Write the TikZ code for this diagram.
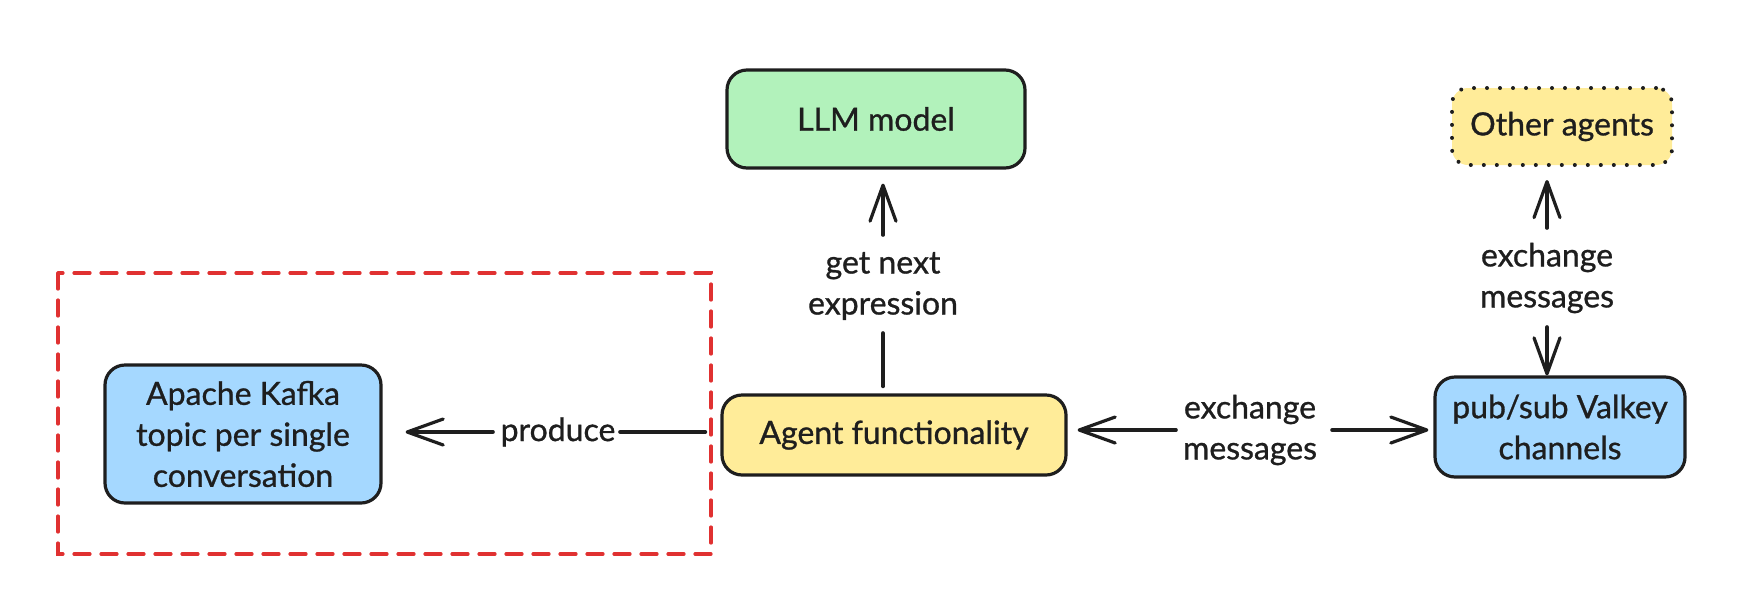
\documentclass[tikz,border=0pt]{standalone}
\usepackage{fontspec}
\setmainfont{Lato}[FakeBold=0.9]
\usetikzlibrary{arrows.meta}
\definecolor{ink}{HTML}{1E1E1E}
\definecolor{llmgreen}{HTML}{B2F2BB}
\definecolor{agyellow}{HTML}{FFEC99}
\definecolor{skyblue}{HTML}{A5D8FF}
\definecolor{redline}{HTML}{E03131}
\tikzset{
  box/.style={draw=ink, line width=1.6pt, rounded corners=10pt, text=ink, align=center,
    inner sep=0pt, font=\fontsize{16}{20.5}\selectfont},
  lbl/.style={text=ink, align=center, inner sep=2pt, font=\fontsize{16}{20.5}\selectfont},
  conn/.style={draw=ink, line width=1.8pt, line cap=round},
  tip/.style={-{Straight Barb[length=18pt,width=13pt,line width=1.6pt,round]}}
}
\begin{document}
\begin{tikzpicture}[x=0.5pt,y=-0.5pt]
\useasboundingbox (0,0) rectangle (1756,606);
% red dashed group
\draw[redline, line width=1.6pt, dash pattern=on 8pt off 5.5pt, line cap=round]
  (58,273) rectangle (711,554);
% boxes
\node[box, fill=llmgreen, minimum width=149pt, minimum height=49pt] (llm) at (876,119) {LLM model};
\node[box, fill=agyellow, minimum width=110pt, minimum height=38.5pt, rounded corners=8pt,
  dash pattern=on 0pt off 6.5pt, line width=2pt, line cap=round] (other) at (1562,126.5) {Other agents};
\node[box, fill=agyellow, minimum width=172pt, minimum height=40pt] (agent) at (894,435) {Agent functionality};
\node[box, fill=skyblue, minimum width=125pt, minimum height=50pt] (pub) at (1560,427) {pub/sub Valkey\\channels};
\node[box, fill=skyblue, minimum width=138pt, minimum height=69pt] (kafka) at (243,434) {Apache Kafka\\topic per single\\conversation};
% labels
\node[lbl] (lblL) at (883,286) {get next\\expression};
\node[lbl] (lblO) at (1547,278) {exchange\\messages};
\node[lbl] (lblE) at (1250,430) {exchange\\messages};
\node[lbl] (lblP) at (558,432) {produce};
% connectors
\draw[conn, tip, shorten <=25.5pt, shorten >=7pt] (lblL.center) -- (lblL.center |- llm.south);
\draw[conn, shorten <=23.5pt, shorten >=3.5pt] (lblL.center) -- (lblL.center |- agent.north);
\draw[conn, tip, shorten <=25pt, shorten >=6.5pt] (lblO.center) -- (lblO.center |- other.south);
\draw[conn, tip, shorten <=24.5pt, shorten >=0pt] (lblO.center) -- (lblO.center |- pub.north);
\draw[conn, tip, shorten <=37pt, shorten >=5pt] (lblE.center) -- (lblE.center -| agent.east);
\draw[conn, tip, shorten <=41pt, shorten >=2.5pt] (lblE.center) -- (lblE.center -| pub.west);
\draw[conn, shorten <=31pt, shorten >=7.5pt] (lblP.center) -- (lblP.center -| agent.west);
\draw[conn, tip, shorten <=32.5pt, shorten >=11.5pt] (lblP.center) -- (lblP.center -| kafka.east);
\end{tikzpicture}
\end{document}
